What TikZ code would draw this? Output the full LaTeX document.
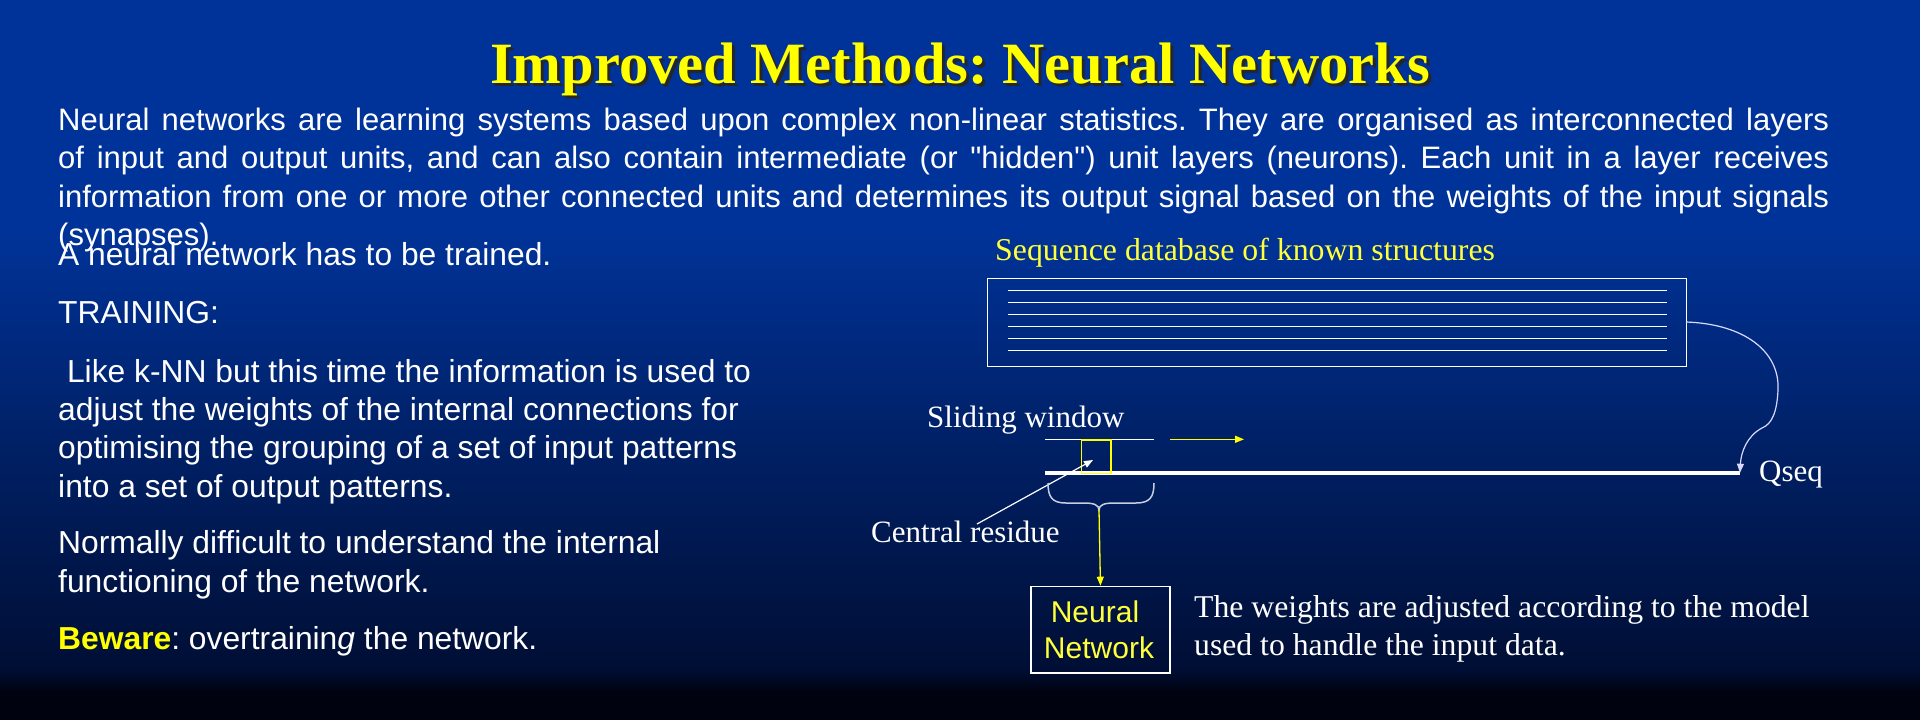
\documentclass[tikz,border=0pt]{standalone}
\usepackage{fontspec}
\setmainfont{Liberation Serif}
\newfontfamily\arial{Liberation Sans}
\usetikzlibrary{arrows.meta}
\frenchspacing
\definecolor{bgtop}{RGB}{0,51,153}
\definecolor{bgmid}{RGB}{0,36,112}
\definecolor{bglow}{RGB}{0,14,52}
\definecolor{bgbot}{RGB}{0,2,16}
\definecolor{ttlyellow}{RGB}{255,255,0}
\definecolor{lblyellow}{RGB}{255,255,60}
\definecolor{bracegray}{RGB}{200,205,225}
\tikzset{
  body/.style={anchor=base west, inner sep=0pt, text=white, font=\arial\frenchspacing\fontsize{31}{38}\selectfont},
  leftcol/.style={body, font=\arial\frenchspacing\fontsize{31.8}{38}\selectfont},
  serif/.style={anchor=base west, inner sep=0pt, text=white, font=\frenchspacing\fontsize{31}{38}\selectfont},
  thinw/.style={draw=white, line width=1.3pt},
  thiny/.style={draw=ttlyellow, line width=1.3pt},
  tipw/.style={-{Triangle[length=9pt,width=7pt]}},
}
\begin{document}
\begin{tikzpicture}[x=1pt,y=-1pt]
\useasboundingbox (0,0) rectangle (1920,720);
% background
\fill[bgtop] (0,0) rectangle (1920,230);
\shade[top color=bgtop, bottom color=bgmid] (0,229) rectangle (1920,400);
\shade[top color=bgmid, bottom color=bglow] (0,399) rectangle (1920,671);
\shade[top color=bglow, bottom color=bgbot] (0,670) rectangle (1920,692);
\fill[bgbot] (0,691) rectangle (1920,720);

% title
\node[anchor=base, inner sep=0pt, text=black!85, font=\bfseries\fontsize{58.5}{60}\selectfont] (titleshadow) at (963,86) {Improved Methods: Neural Networks};
\node[anchor=base, inner sep=0pt, text=ttlyellow, font=\bfseries\fontsize{58.5}{60}\selectfont] (title) at (960,83) {Improved Methods: Neural Networks};

% intro paragraph
\node[body] (p1) at (58,130) {\makebox[1771pt][s]{Neural networks are learning systems based upon complex non-linear statistics. They are organised as interconnected layers}};
\node[body] (p2) at (58,168) {\makebox[1771pt][s]{of input and output units, and can also contain intermediate (or {\char34}hidden{\char34}) unit layers (neurons). Each unit in a layer receives}};
\node[body] (p3) at (58,207) {\makebox[1771pt][s]{information from one or more other connected units and determines its output signal based on the weights of the input signals}};
\node[body] (p4) at (58,245) {(synapses).};

% left column
\node[leftcol] (l1) at (58,265) {A neural network has to be trained.};
\node[leftcol] (l2) at (58,323) {TRAINING:};
\node[leftcol] (l3) at (58,382) {\ Like k-NN but this time the information is used to};
\node[leftcol] (l4) at (58,420) {adjust the weights of the internal connections for};
\node[leftcol] (l5) at (58,458) {optimising the grouping of a set of input patterns};
\node[leftcol] (l6) at (58,497) {into a set of output patterns.};
\node[leftcol] (l7) at (58,553) {Normally difficult to understand the internal};
\node[leftcol] (l8) at (58,592) {functioning of the network.};
\node[leftcol] (l9) at (58,649) {{\bfseries\color{ttlyellow}Beware}: overtrainin\textit{g} the network.};

% database
\node[serif, text=lblyellow, font=\fontsize{31.8}{36}\selectfont] (dblabel) at (995,260) {Sequence database of known structures};
\node[thinw, rectangle, inner sep=0pt, minimum width=699pt, minimum height=87.5pt, anchor=north west] (db) at (987,278) {};
\foreach \yy in {290.5,302.5,314.5,326.5,338.5,350.5}
  \draw[white, line width=1.3pt] (1008,\yy) -- (1667,\yy);

% query sequence
\coordinate (qs) at (1045,472.7);
\coordinate (qe) at (1740,472.7);
\draw[white, line width=4pt] (qs) -- (qe);
\node[serif] (qseq) at (1759,481) {Qseq};
\coordinate (dbout) at (1686,322);
\draw[white!85!blue, line width=1.2pt, tipw] (dbout) .. controls (1745,324) and (1780,352) .. (1778,390)
  .. controls (1777,412) and (1772,424) .. (1762,428)
  .. controls (1747,436) and (1741,452) .. (qe);

% sliding window
\node[serif] (swlabel) at (927,427) {Sliding window};
\coordinate (ws) at (1045,439.3);
\coordinate (we) at (1154,439.3);
\draw[white, line width=1.3pt] (ws) -- (we);
\node[thiny, rectangle, inner sep=0pt, minimum width=29.3pt, minimum height=33.4pt, anchor=north west] (cres) at (1081,439.3) {};
\coordinate (mvs) at (1170,439.3);
\coordinate (mve) at (1244,439.3);
\draw[ttlyellow, line width=1.3pt, -{Triangle[length=9pt,width=7pt]}] (mvs) -- (mve);

% central residue
\node[serif] (crlabel) at (871,542) {Central residue};
\coordinate (crfrom) at (977,524);
\coordinate (crto) at (1093,460);
\draw[white, line width=1.2pt, tipw] (crfrom) -- (crto);

% brace
\coordinate (brtip) at (1099,510);
\draw[bracegray, line width=1.5pt] (1048,483) .. controls (1048,497) and (1052,503) .. (1066,503) -- (1084,503)
  .. controls (1094,503) and (1099,505) .. (brtip)
  .. controls (1099,505) and (1104,503) .. (1114,503) -- (1136,503)
  .. controls (1150,503) and (1154,497) .. (1154,483);

% neural network box
\node[thinw, rectangle, inner sep=0pt, minimum width=139pt, minimum height=86.6pt, anchor=north west] (nn) at (1030.3,585.7) {};
\node[anchor=base, inner sep=0pt, text=lblyellow, font=\arial\fontsize{30}{36}\selectfont] (nn1) at (1095,622) {Neural};
\node[anchor=base, inner sep=0pt, text=lblyellow, font=\arial\fontsize{30}{36}\selectfont] (nn2) at (1099,658) {Network};
\draw[ttlyellow, line width=1.3pt, -{Triangle[length=9pt,width=7pt]}] (brtip) -- (nn.north);

% caption
\node[serif, font=\fontsize{31.7}{38}\selectfont] (cap1) at (1194,617) {The weights are adjusted according to the model};
\node[serif, font=\fontsize{31.7}{38}\selectfont] (cap2) at (1194,655) {used to handle the input data.};
\end{tikzpicture}
\end{document}
